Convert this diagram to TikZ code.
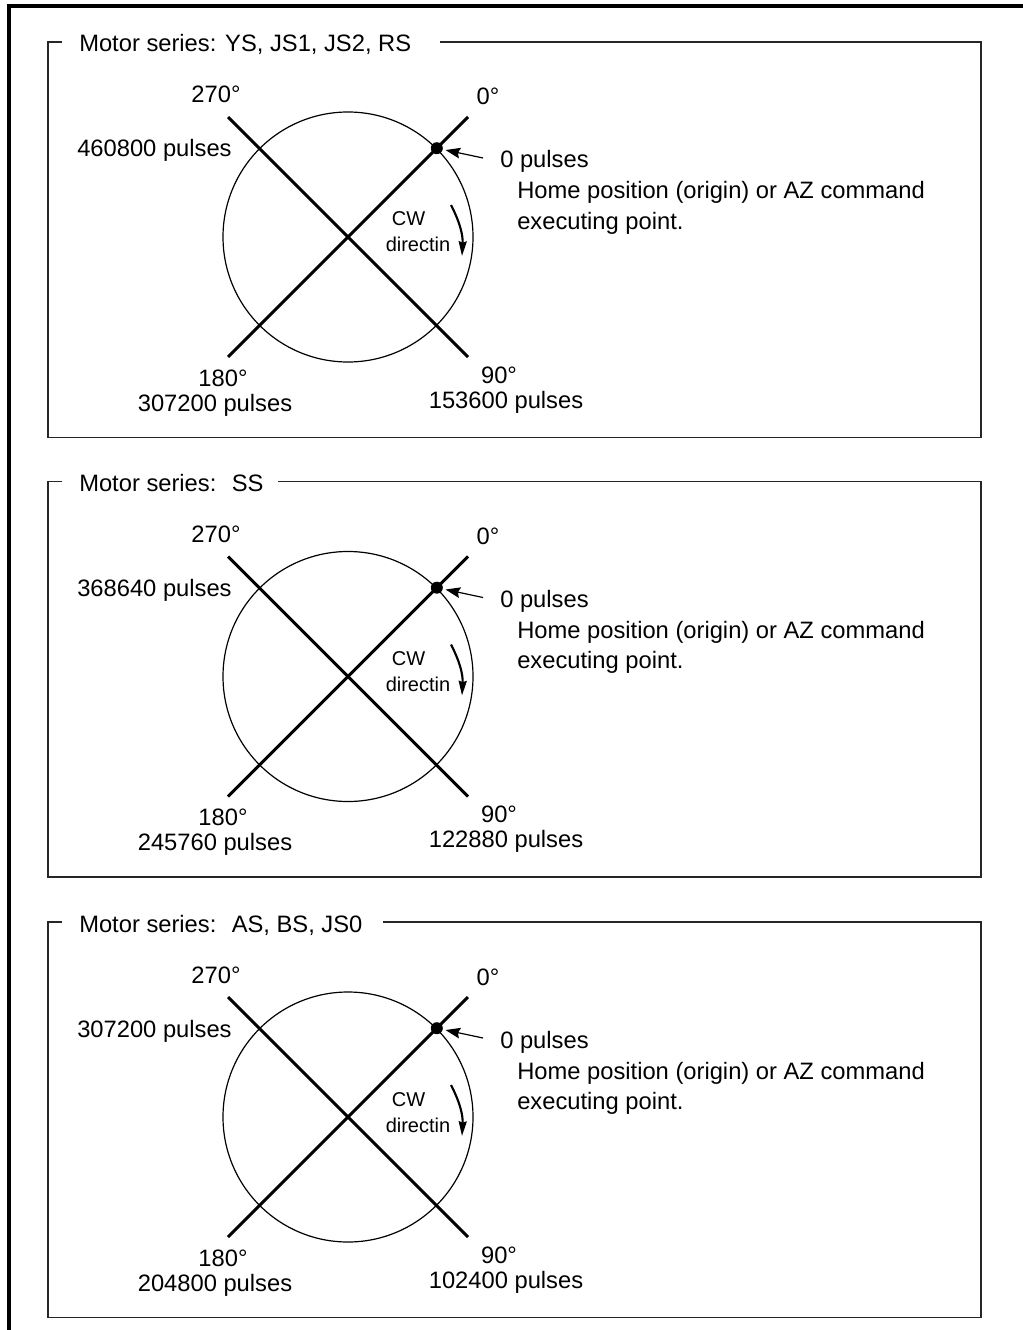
\documentclass[tikz,border=0pt]{standalone}
\usepackage{fontspec}
\setmainfont{Liberation Sans}
\usetikzlibrary{arrows.meta}
\newcommand\motorpanel[8]{%
\begin{scope}[shift={(0,#1)}]
  \draw[frame] (62,42) -- (48,42) -- (48,437.5) -- (981,437.5) -- (981,42) -- (#7,42);
  \node[lbl, anchor=base west] (#2title) at (79,52) {#3};
  \node[ring, draw, circle, minimum size=187.5pt, inner sep=0pt] (#2c) at (348,237) {};
  \coordinate (#2a) at (228,117);
  \coordinate (#2b) at (468,357);
  \coordinate (#2d) at (228,357);
  \coordinate (#2e) at (468,117);
  \draw[axis] (#2a) -- (#2b);
  \draw[axis] (#2d) -- (#2e);
  \node[dotmark] (#2dot) at (#2c.45) {};
  \coordinate (#2as) at (483,158);
  \draw[ptr] (#2as) -- (#2dot);
  \node[lbl, anchor=base] (#2l270) at (216,103) {270°};
  \node[lbl, anchor=base west] (#2p270) at (77,157) {#4 pulses};
  \node[lbl, anchor=base] (#2l0) at (488,105) {0°};
  \node[lbl, anchor=base west] (#2p0) at (500,168) {0 pulses};
  \node[lbl, anchor=base west] (#2h1) at (517,199) {Home position (origin) or AZ command};
  \node[lbl, anchor=base west] (#2h2) at (517,229) {executing point.};
  \node[lbl, anchor=base] (#2l180) at (223,386) {180°};
  \node[lbl, anchor=base] (#2p180) at (215,411) {#5 pulses};
  \node[lbl, anchor=base] (#2l90) at (499,383) {90°};
  \node[lbl, anchor=base] (#2p90) at (506,408) {#6 pulses};
  \node[small, anchor=base] (#2cw) at (408.5,226) {CW};
  \node[small, anchor=base] (#2dir) at (418,252) {directin};
  \coordinate (#2r1) at (451,205);
  \coordinate (#2r2) at (462,256);
  \draw[rot] (#2r1) to[bend left=15] (#2r2);
\end{scope}}
\begin{document}
\begin{tikzpicture}[x=0.75pt,y=-0.75pt,
  lbl/.style={font=\fontsize{17.8}{20}\selectfont, inner sep=0pt},
  small/.style={font=\fontsize{15}{17}\selectfont, inner sep=0pt},
  axis/.style={line width=2.3pt},
  ring/.style={line width=0.9pt},
  frame/.style={line width=1.3pt, draw=black!85},
  dotmark/.style={circle, fill=black, minimum size=9pt, inner sep=0pt},
  ptr/.style={line width=0.9pt, shorten >=2pt, -{Stealth[length=11pt,width=8pt,inset=1.5pt]}},
  rot/.style={line width=1.6pt, -{Stealth[length=11pt,width=6pt,inset=1pt]}}]
\useasboundingbox (0,0) rectangle (1022,1330);
\coordinate (ob) at (9,1332);
\coordinate (oc) at (9,6);
\coordinate (or) at (1024,6);
\draw[line width=2.4pt] (ob) -- (oc) -- (or);
\motorpanel{0}{A}{Motor series: YS, JS1, JS2, RS}{460800}{307200}{153600}{440}{}
\motorpanel{439.5}{B}{Motor series:~ SS}{368640}{245760}{122880}{278}{}
\motorpanel{880}{C}{Motor series:~ AS, BS, JS0}{307200}{204800}{102400}{383}{}
\end{tikzpicture}
\end{document}
